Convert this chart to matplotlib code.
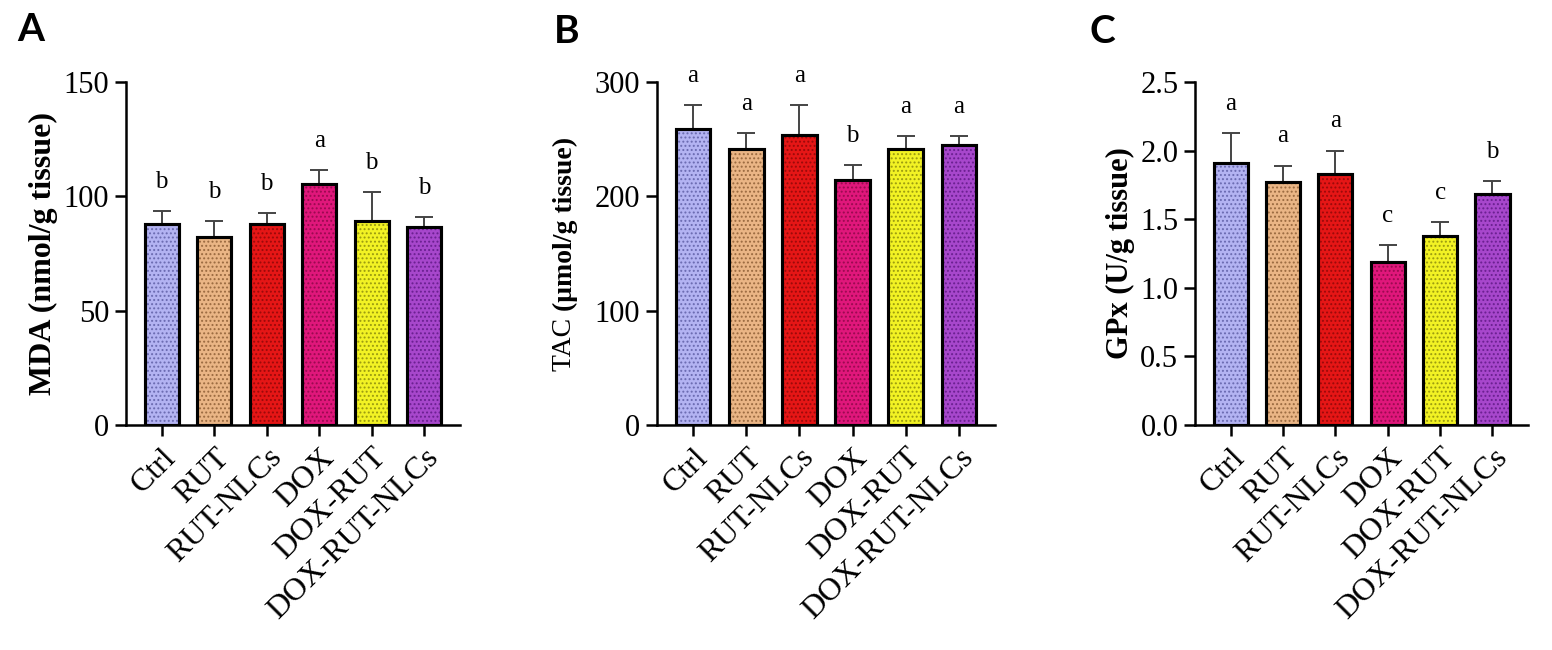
import numpy as np
import matplotlib
matplotlib.use("Agg")
import matplotlib.pyplot as plt

# groups and colours
groups = ["Ctrl", "RUT", "RUT-NLCs", "DOX", "DOX-RUT", "DOX-RUT-NLCs"]
colors = ["#b3b3f2", "#eab585", "#e51616", "#e0177b", "#f2f224", "#a747cc"]
hatch_cols = ["#6a6ab0", "#9a6a40", "#9a0a0a", "#9a0a50", "#9a9a10", "#6a2090"]

# MDA (nmol/g tissue)
mda = [88, 82, 88, 105.5, 89, 86.5]
mda_err = [5.5, 7, 4.5, 6, 13, 4.5]
mda_let = ["b", "b", "b", "a", "b", "b"]

# TAC (umol/g tissue)
tac = [258.5, 241.5, 253.5, 214.5, 241.5, 244.5]
tac_err = [21.5, 14, 26.5, 12.5, 11, 8]
tac_let = ["a", "a", "a", "b", "a", "a"]

# GPx (U/g tissue)
gpx = [1.91, 1.77, 1.83, 1.19, 1.38, 1.68]
gpx_err = [0.22, 0.12, 0.17, 0.12, 0.10, 0.10]
gpx_let = ["a", "a", "a", "c", "c", "b"]

plt.rcParams['font.family'] = ['Liberation Serif', 'DejaVu Serif']
plt.rcParams['hatch.linewidth'] = 0.9

fig = plt.figure(figsize=(15.52, 6.5), dpi=100)


def panel(rect, vals, errs, letters, ymax, yticks):
    ax = fig.add_axes(rect)
    x = np.arange(len(groups))
    ax.errorbar(x, vals, yerr=[np.zeros(len(vals)), errs], fmt='none',
                ecolor='#444444', elinewidth=1.4, capsize=6.5, capthick=1.4, zorder=2)
    ax.bar(x, vals, width=0.65, color=colors, edgecolor='black', linewidth=2.2, zorder=3)
    # texture overlay
    for i in range(len(groups)):
        ax.bar(x[i], vals[i], width=0.65, color='none', edgecolor=hatch_cols[i],
               linewidth=0, hatch='....', zorder=3.5)
    ax.bar(x, vals, width=0.65, color='none', edgecolor='black', linewidth=2.2, zorder=4)
    for i in range(len(groups)):
        ax.annotate(letters[i], (x[i], vals[i] + errs[i]), xytext=(0, 21),
                    textcoords='offset points', ha='center', va='center', fontsize=18)
    ax.set_xlim(-0.68, len(groups) - 0.32)
    ax.set_ylim(0, ymax)
    ax.set_yticks(yticks)
    ax.set_xticks(x)
    ax.set_xticklabels(groups, rotation=45, ha='right', rotation_mode='anchor',
                       fontsize=23)
    ax.tick_params(axis='y', labelsize=22, width=1.8, length=8, pad=4)
    ax.tick_params(axis='x', width=1.8, length=8, pad=5)
    for s in ['top', 'right']:
        ax.spines[s].set_visible(False)
    for s in ['left', 'bottom']:
        ax.spines[s].set_linewidth(1.8)
    ax.patch.set_visible(False)
    return ax


axA = panel([0.0812, 0.3462, 0.2152, 0.5277], mda, mda_err, mda_let, 150,
            [0, 50, 100, 150])
axA.set_ylabel("MDA (nmol/g tissue)", fontsize=23, fontweight='bold', labelpad=4)

axB = panel([0.4233, 0.3462, 0.2178, 0.5277], tac, tac_err, tac_let, 300,
            [0, 100, 200, 300])
fig.text(0.364, 0.5215, "TAC ", rotation=90, ha='center', va='top', fontsize=20)
fig.text(0.364, 0.5215, "(\u03bcmol/g tissue)", rotation=90, ha='center', va='bottom',
         fontsize=20, fontweight='bold')

gticks = [0, 0.5, 1.0, 1.5, 2.0, 2.5]
axC = panel([0.770, 0.3462, 0.2146, 0.5277], gpx, gpx_err, gpx_let, 2.5, gticks)
axC.set_yticklabels(["%.1f" % t for t in gticks])
axC.set_ylabel("GPx (U/g tissue)", fontsize=22, fontweight='bold', labelpad=4)

for lab, xp, yp in [("A", 0.020, 0.955), ("B", 0.365, 0.952), ("C", 0.710, 0.952)]:
    fig.text(xp, yp, lab, fontsize=28, fontweight='bold', family=['Lato', 'DejaVu Sans'],
             ha='center', va='center')

fig.savefig("out.png", dpi=100)
